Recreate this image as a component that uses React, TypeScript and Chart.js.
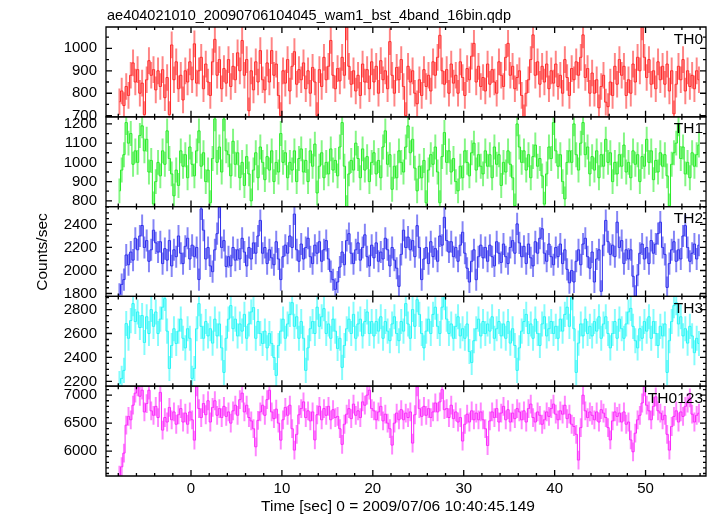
import React, { useEffect, useRef } from 'react';
import { Chart, registerables } from 'chart.js';

Chart.register(...registerables);

const FONT = "'Liberation Sans', Arial, Helvetica, sans-serif";

const TITLE = 'ae404021010_20090706104045_wam1_bst_4band_16bin.qdp';
const X_TITLE = 'Time [sec] 0 = 2009/07/06 10:40:45.149';
const Y_TITLE = 'Counts/sec';

const BIN_START = -8;
const BIN_WIDTH = 0.25;
const X_MIN = -9.35;
const X_MAX = 56.65;
const X_TICKS = [0, 10, 20, 30, 40, 50];
const X_MINOR_STEP = 2;

const PANEL_LABELS = ['TH0', 'TH1', 'TH2', 'TH3', 'TH0123'];
const LINE_COLORS = ['rgb(255,40,40)', 'rgb(40,235,40)', 'rgb(45,45,235)', 'rgb(40,245,245)', 'rgb(250,40,250)'];
const ERR_COLORS = ['rgba(255,50,50,0.6)', 'rgba(50,240,50,0.6)', 'rgba(50,50,240,0.6)', 'rgba(50,250,250,0.6)', 'rgba(255,50,255,0.6)'];
const Y_MIN = [695, 770, 1775, 2160, 5555];
const Y_MAX = [1095, 1237, 2555, 2910, 7160];
const Y_TICKS_TH0 = [700, 800, 900, 1000];
const Y_TICKS_TH1 = [800, 900, 1000, 1100, 1200];
const Y_TICKS_TH2 = [1800, 2000, 2200, 2400];
const Y_TICKS_TH3 = [2200, 2400, 2600, 2800];
const Y_TICKS_TH0123 = [6000, 6500, 7000];
const Y_TICKS = [Y_TICKS_TH0, Y_TICKS_TH1, Y_TICKS_TH2, Y_TICKS_TH3, Y_TICKS_TH0123];
const Y_MINOR_STEP = [50, 50, 50, 50, 100];
const ERRORS = [58, 63, 93, 102, 162];

const TH0 = [
  762, 810, 745, 830, 790, 880, 935, 850, 905, 800, 845, 705, 860, 945, 880, 905,
  815, 900, 830, 905, 780, 870, 705, 1015, 860, 940, 820, 880, 770, 900, 850, 940,
  860, 1020, 845, 900, 960, 820, 930, 850, 790, 940, 1040, 880, 950, 820, 910, 845,
  950, 830, 920, 860, 980, 900, 1035, 880, 950, 722, 900, 815, 940, 850, 990, 860,
  815, 935, 850, 990, 880, 930, 790, 700, 900, 845, 950, 810, 920, 985, 840, 905,
  860, 935, 820, 900, 800, 915, 850, 700, 905, 830, 960, 860, 920, 1035, 880, 820,
  910, 855, 960, 880, 1095, 920, 840, 900, 810, 880, 790, 930, 850, 905, 820, 940,
  850, 920, 800, 945, 860, 900, 820, 1030, 880, 800, 915, 860, 950, 830, 700, 920,
  850, 900, 800, 753, 860, 790, 905, 830, 880, 810, 940, 880, 960, 1058, 900, 840,
  905, 800, 930, 845, 880, 800, 940, 870, 790, 910, 860, 965, 1022, 850, 920, 830,
  870, 810, 930, 840, 905, 850, 800, 940, 880, 830, 960, 1022, 880, 920, 820, 870,
  900, 790, 690, 800, 860, 950, 1060, 880, 940, 840, 920, 850, 930, 820, 900, 845,
  930, 830, 880, 800, 950, 870, 790, 910, 860, 940, 880, 960, 1060, 870, 910, 800,
  890, 800, 860, 735, 830, 880, 760, 740, 850, 790, 920, 840, 950, 880, 920, 790,
  860, 800, 930, 850, 960, 900, 1095, 960, 870, 950, 840, 900, 820, 940, 860, 920,
  840, 930, 810, 900, 708, 840, 920, 860, 950, 810, 900, 830, 880, 820, 900, 860,
];

const TH1 = [
  852, 960, 1040, 1207, 1100, 1150, 990, 1060, 1000, 1140, 1190, 1060, 1120, 950, 1010, 784,
  900, 1000, 930, 1060, 990, 1164, 1020, 940, 826, 960, 880, 1060, 980, 1040, 920, 1080,
  990, 930, 1060, 1164, 980, 1050, 900, 960, 790, 1020, 1226, 1000, 1080, 950, 1226, 1060,
  1040, 930, 1110, 990, 1050, 920, 1000, 880, 1030, 940, 800, 960, 1050, 920, 1080, 1000,
  910, 1030, 960, 1060, 900, 1000, 950, 1150, 1000, 1050, 920, 1000, 960, 1060, 900, 1020,
  1070, 950, 1010, 900, 1060, 980, 1095, 841, 980, 1050, 920, 1000, 940, 1070, 960, 1010,
  930, 1080, 1207, 980, 764, 940, 1010, 960, 1100, 1020, 920, 1070, 960, 1030, 900, 1000,
  1050, 940, 1010, 920, 1080, 1164, 990, 1040, 860, 980, 920, 1060, 1000, 950, 1080, 1190,
  1050, 1120, 970, 852, 980, 920, 1010, 790, 960, 1040, 990, 1080, 950, 790, 1030, 1155,
  1000, 1060, 950, 1020, 900, 852, 980, 920, 1060, 1000, 930, 1050, 1100, 960, 1040, 980,
  940, 1060, 980, 1040, 920, 1080, 990, 1040, 880, 1000, 950, 1060, 990, 920, 774, 1200,
  1080, 1000, 1060, 960, 1040, 920, 1030, 1090, 980, 1020, 930, 783, 940, 1080, 1020, 1207,
  1060, 980, 1040, 900, 810, 1000, 1060, 1000, 1200, 1040, 960, 1100, 1207, 1040, 1080, 940,
  1030, 960, 1060, 920, 1040, 980, 1120, 1000, 1050, 900, 1000, 940, 1040, 980, 1090, 950,
  1000, 920, 1060, 990, 1040, 900, 1030, 980, 1120, 1000, 1060, 910, 1010, 950, 1050, 980,
  1040, 930, 774, 990, 1050, 1100, 1200, 1020, 1080, 940, 1000, 920, 1050, 980, 1040, 1090,
];

const TH2 = [
  1793, 1879, 1921, 2135, 2050, 2160, 2090, 2280, 2180, 2300, 2391, 2200, 2260, 2080, 2180, 2350,
  2240, 2160, 2250, 2060, 2190, 2090, 2260, 2040, 2180, 2120, 2300, 2150, 2060, 2210, 2280, 2100,
  2220, 2120, 2200, 1921, 2535, 2350, 2100, 2200, 2040, 1990, 2180, 2320, 2550, 2200, 2260, 2035,
  2120, 2040, 2200, 2090, 2180, 2100, 2280, 2160, 2040, 2200, 2100, 2240, 2150, 2300, 2435, 2150,
  2200, 2060, 2180, 2110, 2050, 2250, 2100, 1921, 2120, 2220, 2150, 2300, 2200, 2490, 2180, 2080,
  2230, 2100, 2200, 2280, 2120, 2060, 2220, 2150, 2250, 2080, 2180, 2260, 2100, 1990, 1920, 1836,
  1900, 2030, 2160, 2050, 2260, 2320, 2150, 2060, 2180, 2240, 2090, 2200, 2310, 2120, 2040, 2220,
  2110, 2240, 2080, 2160, 2100, 2280, 2180, 2040, 2200, 2090, 2020, 1862, 2140, 2350, 2200, 2290,
  2180, 2260, 2120, 2390, 2200, 1921, 2100, 2200, 2060, 2250, 2120, 2190, 2080, 2300, 2220, 2462,
  2260, 2160, 2250, 2120, 2200, 2080, 2220, 2332, 2150, 2020, 1900, 2080, 2180, 1920, 2120, 2220,
  2110, 2200, 2080, 2220, 2120, 2040, 2250, 2150, 2070, 2230, 2120, 2060, 2200, 2260, 2150, 2405,
  2240, 2120, 2210, 2060, 2230, 2110, 2040, 2250, 2150, 2280, 2363, 2150, 2080, 2230, 2120, 2050,
  2200, 2120, 2230, 2060, 2180, 2010, 1893, 2000, 1900, 2080, 2180, 2050, 2230, 2280, 2120, 2020,
  2160, 1900, 2100, 2180, 1819, 2220, 2435, 2250, 2140, 2220, 2120, 2420, 2200, 2260, 2060, 2180,
  2100, 2180, 1950, 1777, 1960, 2150, 2230, 2100, 2200, 2060, 2260, 2150, 2230, 2320, 2420, 2200,
  2140, 1853, 2060, 2180, 2250, 2080, 2180, 2100, 2300, 2390, 2200, 2080, 2150, 2230, 2100, 2220,
];

const TH3 = [
  2183, 2225, 2292, 2683, 2560, 2708, 2850, 2700, 2780, 2650, 2750, 2525, 2740, 2600, 2800, 2660,
  2780, 2600, 2720, 2820, 2892, 2620, 2308, 2500, 2640, 2517, 2620, 2720, 2560, 2480, 2640, 2560,
  2225, 2308, 2640, 2850, 2660, 2560, 2700, 2580, 2640, 2520, 2720, 2580, 2680, 2480, 2275, 2560,
  2720, 2833, 2640, 2720, 2580, 2680, 2620, 2760, 2560, 2680, 2780, 2817, 2560, 2700, 2600, 2517,
  2620, 2480, 2600, 2517, 2400, 2250, 2500, 2620, 2720, 2560, 2680, 2760, 2858, 2660, 2740, 2560,
  2700, 2560, 2292, 2480, 2640, 2700, 2600, 2820, 2660, 2740, 2808, 2600, 2680, 2560, 2720, 2620,
  2475, 2560, 2317, 2500, 2640, 2720, 2600, 2760, 2560, 2680, 2720, 2580, 2700, 2780, 2600, 2700,
  2580, 2700, 2620, 2740, 2560, 2700, 2620, 2540, 2680, 2740, 2600, 2540, 2700, 2620, 2850, 2680,
  2560, 2800, 2660, 2883, 2760, 2600, 2480, 2620, 2720, 2600, 2760, 2820, 2660, 2600, 2820, 2900,
  2720, 2600, 2680, 2560, 2660, 2740, 2580, 2640, 2560, 2680, 2450, 2358, 2540, 2640, 2720, 2580,
  2700, 2600, 2680, 2620, 2740, 2560, 2640, 2700, 2580, 2680, 2560, 2700, 2520, 2640, 2500, 2292,
  2480, 2620, 2700, 2760, 2600, 2680, 2560, 2720, 2600, 2500, 2680, 2740, 2580, 2640, 2700, 2600,
  2660, 2560, 2720, 2620, 2760, 2820, 2660, 2900, 2640, 2275, 2520, 2680, 2580, 2720, 2600, 2660,
  2580, 2700, 2620, 2740, 2560, 2680, 2740, 2600, 2480, 2600, 2700, 2560, 2720, 2640, 2560, 2680,
  2780, 2810, 2660, 2540, 2480, 2640, 2560, 2700, 2620, 2740, 2560, 2700, 2600, 2500, 2660, 2580,
  2680, 2275, 2540, 2700, 2833, 2858, 2680, 2740, 2580, 2640, 2520, 2660, 2580, 2440, 2560, 2517,
];

const TH0123 = [
  5571, 5720, 5964, 6464, 6620, 6560, 6820, 7036, 7148, 6980, 7089, 6700, 6850, 7089, 6720, 6640,
  6800, 6600, 7050, 6375, 6600, 6520, 6780, 6560, 6700, 6480, 6650, 6760, 6520, 6680, 6480, 6700,
  6560, 6196, 7150, 6760, 6600, 6850, 6650, 6900, 6520, 6780, 6900, 6640, 6760, 6600, 6800, 6620,
  6700, 6500, 6720, 6820, 6640, 6920, 7036, 6700, 6820, 6600, 6540, 6400, 6077, 6550, 6700, 6820,
  6640, 6920, 7089, 6700, 6580, 6750, 6500, 6196, 6560, 6780, 6640, 6820, 6400, 6018, 6300, 6650,
  6760, 6880, 6600, 6720, 6540, 6700, 6200, 6650, 6800, 6560, 6760, 6640, 6800, 6560, 6740, 6600,
  6620, 6400, 6120, 6480, 6660, 6760, 6580, 6840, 6640, 6720, 6600, 6880, 6820, 7000, 7089, 6760,
  6720, 6560, 6700, 6800, 6540, 6660, 6500, 6400, 6107, 6500, 6680, 6560, 6740, 6560, 6680, 6600,
  6700, 6143, 6650, 7148, 6760, 6620, 6800, 6640, 6760, 6600, 6700, 6860, 6700, 6880, 7100, 6740,
  6760, 6600, 6820, 6580, 6700, 6520, 6600, 6180, 6480, 6660, 6520, 6720, 6560, 6680, 6560, 6700,
  6560, 6400, 6100, 6540, 6700, 6600, 6760, 6520, 6680, 6800, 6560, 6740, 6520, 6680, 6580, 6760,
  6700, 6560, 6720, 6520, 6760, 6840, 6600, 6520, 6700, 6640, 6480, 6560, 6700, 6620, 6760, 6840,
  6660, 6560, 6720, 6660, 6820, 6580, 6660, 6480, 6440, 6300, 5840, 6420, 7000, 6720, 6600, 6700,
  6640, 6560, 6700, 6520, 6740, 6680, 6600, 6420, 6200, 6540, 6700, 6620, 6680, 6520, 6700, 6480,
  6520, 6200, 5988, 6320, 6560, 6640, 6860, 7148, 6820, 6720, 6560, 6800, 6970, 6720, 6680, 6560,
  6640, 6300, 6018, 6440, 6620, 6720, 6520, 6700, 6620, 6800, 6860, 6950, 6660, 6520, 6640, 6678,
];

const SERIES = [TH0, TH1, TH2, TH3, TH0123];

const MAJOR_LEN = 6;
const MINOR_LEN = 3;

const decorPlugin = {
  id: 'qdpDecor',
  afterDatasetsDraw(chart: any) {
    const ctx = chart.ctx as CanvasRenderingContext2D;
    const xs = chart.scales.x;
    ctx.save();
    ctx.strokeStyle = '#000';
    ctx.fillStyle = '#000';
    ctx.lineWidth = 1.3;
    for (let k = 0; k < 5; k++) {
      const ys = chart.scales['y' + k];
      const top = ys.top;
      const bottom = ys.bottom;
      const left = xs.left;
      const right = xs.right;
      ctx.beginPath();
      ctx.rect(left, top, right - left, bottom - top);
      const tStart = Math.ceil(X_MIN / X_MINOR_STEP) * X_MINOR_STEP;
      for (let t = tStart; t <= X_MAX; t += X_MINOR_STEP) {
        const px = xs.getPixelForValue(t);
        const len = t % 10 === 0 ? MAJOR_LEN : MINOR_LEN;
        ctx.moveTo(px, bottom);
        ctx.lineTo(px, bottom - len);
        ctx.moveTo(px, top);
        ctx.lineTo(px, top + len);
      }
      const step = Y_MINOR_STEP[k];
      for (let v = Math.ceil(Y_MIN[k] / step) * step; v <= Y_MAX[k]; v += step) {
        const py = ys.getPixelForValue(v);
        const len = Y_TICKS[k].includes(v) ? MAJOR_LEN : MINOR_LEN;
        ctx.moveTo(left, py);
        ctx.lineTo(left + len, py);
        ctx.moveTo(right, py);
        ctx.lineTo(right - len, py);
      }
      ctx.stroke();
      ctx.font = `15.5px ${FONT}`;
      ctx.textAlign = 'right';
      ctx.textBaseline = 'alphabetic';
      ctx.fillText(PANEL_LABELS[k], right - 3, top + 16.5);
    }
    ctx.textAlign = 'left';
    ctx.font = `14.5px ${FONT}`;
    ctx.fillText(TITLE, xs.left + 1, 20);
    ctx.font = `15.5px ${FONT}`;
    ctx.textAlign = 'center';
    ctx.fillText(X_TITLE, 398, 511);
    ctx.save();
    ctx.translate(46.5, 252);
    ctx.rotate(-Math.PI / 2);
    ctx.fillText(Y_TITLE, 0, 0);
    ctx.restore();
    ctx.restore();
  },
};

export default function App() {
  const canvasRef = useRef<HTMLCanvasElement | null>(null);

  useEffect(() => {
    const canvas = canvasRef.current;
    if (!canvas) return;
    Chart.defaults.font.family = FONT;

    const xOf = (i: number) => BIN_START + BIN_WIDTH * (i + 0.5);

    const lineSets = SERIES.map((vals, k) => ({
      type: 'line',
      data: vals.map((v, i) => ({ x: xOf(i), y: v })),
      xAxisID: 'x',
      yAxisID: 'y' + k,
      borderColor: LINE_COLORS[k],
      borderWidth: 1,
      pointRadius: 0,
      stepped: 'middle',
      fill: false,
      order: 0,
    }));
    const errSets = SERIES.map((vals, k) => ({
      type: 'bar',
      data: vals.map((v, i) => ({ x: xOf(i), y: [v - ERRORS[k], v + ERRORS[k]] })),
      xAxisID: 'x',
      yAxisID: 'y' + k,
      backgroundColor: ERR_COLORS[k],
      borderWidth: 0,
      barThickness: 1.3,
      grouped: false,
      order: 1,
    }));

    const scales: any = {
      x: {
        type: 'linear',
        position: 'bottom',
        min: X_MIN,
        max: X_MAX,
        offset: false,
        afterBuildTicks: (s: any) => {
          s.ticks = X_TICKS.map((v) => ({ value: v }));
        },
        afterFit: (s: any) => {
          s.height = 40;
        },
        ticks: {
          color: '#000',
          font: { size: 15, family: FONT },
          padding: 4,
          maxRotation: 0,
          autoSkip: false,
          callback: (v: any) => String(v),
        },
        grid: { display: false, drawTicks: false, offset: false },
        border: { display: false },
      },
    };
    for (let k = 0; k < 5; k++) {
      scales['y' + k] = {
        type: 'linear',
        position: 'left',
        stack: 'panels',
        stackWeight: 1,
        weight: 5 - k,
        offset: false,
        beginAtZero: false,
        min: Y_MIN[k],
        max: Y_MAX[k],
        afterBuildTicks: (s: any) => {
          s.ticks = Y_TICKS[k].map((v) => ({ value: v }));
        },
        afterFit: (s: any) => {
          s.width = 106;
          s.paddingTop = 0;
          s.paddingBottom = 0;
        },
        ticks: {
          color: '#000',
          font: { size: 15, family: FONT },
          padding: 9,
          autoSkip: false,
          callback: (v: any) => String(v),
        },
        grid: { display: false, drawTicks: false },
        border: { display: false },
      };
    }

    const chart = new Chart(canvas, {
      type: 'line',
      data: { datasets: [...lineSets, ...errSets] as any },
      options: {
        responsive: false,
        devicePixelRatio: 1,
        animation: false,
        events: [],
        layout: { padding: { top: 27, right: 11, bottom: 0, left: 0 }, autoPadding: false },
        plugins: { legend: { display: false }, tooltip: { enabled: false }, title: { display: false } },
        scales,
      } as any,
      plugins: [decorPlugin],
    });
    return () => chart.destroy();
  }, []);

  return (
    <div style={{ position: 'absolute', left: 0, top: 0, width: 717, height: 516, background: '#fff' }}>
      <canvas ref={canvasRef} width={717} height={516} style={{ display: 'block', width: 717, height: 516 }} />
    </div>
  );
}
